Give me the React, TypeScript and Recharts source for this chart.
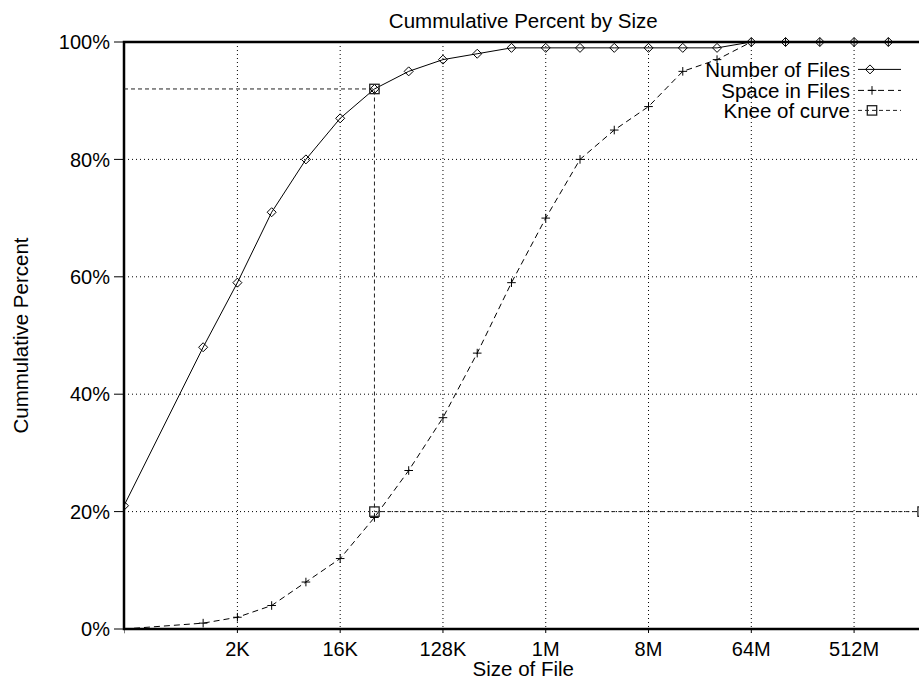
import React from 'react';
import { LineChart, Line, XAxis, YAxis, CartesianGrid, ReferenceArea, Legend } from 'recharts';

// x positions are log2(file size in bytes)
const sizeLog2 = [7.69, 10, 11, 12, 13, 14, 15, 16, 17, 18, 19, 20, 21, 22, 23, 24, 25, 26, 27, 28, 29, 30];
const numberOfFiles = [21, 48, 59, 71, 80, 87, 92, 95, 97, 98, 99, 99, 99, 99, 99, 99, 99, 100, 100, 100, 100, 100];
const spaceInFiles = [0, 1, 2, 4, 8, 12, 19, 27, 36, 47, 59, 70, 80, 85, 89, 95, 97, 100, 100, 100, 100, 100];
const kneeSizeLog2 = [7.69, 15, 15, 31];
const kneePercent = [92, 92, 20, 20];

const xTickLog2 = [11, 14, 17, 20, 23, 26, 29];
const xTickLabels = ['2K', '16K', '128K', '1M', '8M', '64M', '512M'];
const yTicks = [0, 20, 40, 60, 80, 100];
const xDomain: [number, number] = [7.69, 31];

const FONT = '"Liberation Sans", Arial, Helvetica, sans-serif';

const filesData = sizeLog2.map((x, i) => ({ x, files: numberOfFiles[i], space: spaceInFiles[i] }));
const kneeData = kneeSizeLog2.map((x, i) => ({ x, knee: kneePercent[i] }));

type Shape = 'diamond' | 'plus' | 'square';

const Marker = ({ shape, cx, cy }: { shape: Shape; cx: number; cy: number }) => {
  if (shape === 'diamond') {
    const r = 4.5;
    return (
      <path
        d={`M${cx} ${cy - r}L${cx + r} ${cy}L${cx} ${cy + r}L${cx - r} ${cy}Z`}
        fill="none"
        stroke="#000"
        strokeWidth={1}
      />
    );
  }
  if (shape === 'plus') {
    const r = 4.3;
    return (
      <path d={`M${cx - r} ${cy}H${cx + r}M${cx} ${cy - r}V${cy + r}`} fill="none" stroke="#000" strokeWidth={1} />
    );
  }
  const r = 4.7;
  return <rect x={cx - r} y={cy - r} width={2 * r} height={2 * r} fill="none" stroke="#222" strokeWidth={1.3} />;
};

const makeDot = (shape: Shape, skipFirst = false) => (props: any) => {
  const { cx, cy, index } = props;
  if (cx == null || cy == null || (skipFirst && index === 0)) return <g key={`e-${shape}-${index}`} />;
  return (
    <g key={`d-${shape}-${index}`}>
      <Marker shape={shape} cx={cx} cy={cy} />
    </g>
  );
};

const legendItems: { name: string; shape: Shape; dash?: string; color: string }[] = [
  { name: 'Number of Files', shape: 'diamond', color: '#000' },
  { name: 'Space in Files', shape: 'plus', dash: '6 4', color: '#000' },
  { name: 'Knee of curve', shape: 'square', dash: '4 3', color: '#222' },
];

const renderLegend = () => (
  <div style={{ fontFamily: FONT, fontSize: 20.5, color: '#000' }}>
    {legendItems.map((it) => (
      <div key={it.name} style={{ display: 'flex', height: 20.3, lineHeight: '20.3px' }}>
        <div style={{ width: 160, textAlign: 'right', whiteSpace: 'nowrap' }}>{it.name}</div>
        <svg width={44} height={20.3} style={{ marginLeft: 8, overflow: 'visible' }}>
          <line x1={0} y1={9.4} x2={43} y2={9.4} stroke={it.color} strokeWidth={1} strokeDasharray={it.dash} />
          <Marker shape={it.shape} cx={it.shape === 'diamond' ? 12 : 14} cy={9.4} />
        </svg>
      </div>
    ))}
  </div>
);

const YLabel = (props: any) => {
  const vb = props.viewBox || {};
  const cy = vb.y + vb.height / 2;
  const x = 28;
  return (
    <text
      x={x}
      y={cy}
      transform={`rotate(-90 ${x} ${cy})`}
      textAnchor="middle"
      fontFamily={FONT}
      fontSize={20.5}
      fill="#000"
    >
      Cummulative Percent
    </text>
  );
};

export default function App() {
  return (
    <div style={{ position: 'absolute', left: 0, top: 0, width: 919, height: 679, overflow: 'hidden', background: '#fff' }}>
      <div
        style={{
          position: 'absolute',
          left: 124,
          width: 798.6,
          top: 10.9,
          textAlign: 'center',
          fontFamily: FONT,
          fontSize: 20.5,
          lineHeight: '20px',
          color: '#000',
          whiteSpace: 'nowrap',
          zIndex: 2,
        }}
      >
        Cummulative Percent by Size
      </div>
      <LineChart width={940} height={679} margin={{ top: 42, right: 17.4, bottom: 0, left: 0 }}>
        <CartesianGrid stroke="#000" strokeDasharray="1 3" strokeWidth={1} />
        <XAxis
          type="number"
          dataKey="x"
          domain={xDomain}
          ticks={xTickLog2}
          interval={0}
          allowDataOverflow
          tickFormatter={(v: number) => xTickLabels[xTickLog2.indexOf(v)] ?? ''}
          height={50}
          tickSize={4}
          tickMargin={8.5}
          axisLine={false}
          tickLine={{ stroke: '#000', strokeWidth: 1 }}
          tick={{ fill: '#000', fontFamily: FONT, fontSize: 20 }}
          label={{ value: 'Size of File', position: 'insideBottom', offset: 3, fill: '#000', fontFamily: FONT, fontSize: 20.5 }}
        />
        <YAxis
          type="number"
          domain={[0, 100]}
          ticks={yTicks}
          interval={0}
          width={124}
          tickSize={10}
          tickMargin={4}
          axisLine={false}
          tickFormatter={(v: number) => `${v}%`}
          tickLine={{ stroke: '#000', strokeWidth: 1 }}
          tick={{ fill: '#000', fontFamily: FONT, fontSize: 20 }}
          label={<YLabel />}
        />
        <ReferenceArea
          x1={xDomain[0]}
          x2={xDomain[1]}
          y1={0}
          y2={100}
          stroke="#000"
          strokeWidth={2.5}
          fill="none"
          fillOpacity={0}
          ifOverflow="visible"
        />
        <Line
          data={filesData}
          dataKey="files"
          name="Number of Files"
          type="linear"
          stroke="#000"
          strokeWidth={1}
          dot={makeDot('diamond')}
          activeDot={false}
          isAnimationActive={false}
        />
        <Line
          data={filesData}
          dataKey="space"
          name="Space in Files"
          type="linear"
          stroke="#000"
          strokeWidth={1}
          strokeDasharray="6 4"
          dot={makeDot('plus')}
          activeDot={false}
          isAnimationActive={false}
        />
        <Line
          data={kneeData}
          dataKey="knee"
          name="Knee of curve"
          type="linear"
          stroke="#222"
          strokeWidth={1}
          strokeDasharray="4 3"
          dot={makeDot('square', true)}
          activeDot={false}
          isAnimationActive={false}
        />
        <Legend
          layout="horizontal"
          verticalAlign="middle"
          align="center"
          content={renderLegend}
          wrapperStyle={{ top: 60.45, left: 690, width: 220, height: 62, bottom: 'auto', right: 'auto' }}
        />
      </LineChart>
    </div>
  );
}
